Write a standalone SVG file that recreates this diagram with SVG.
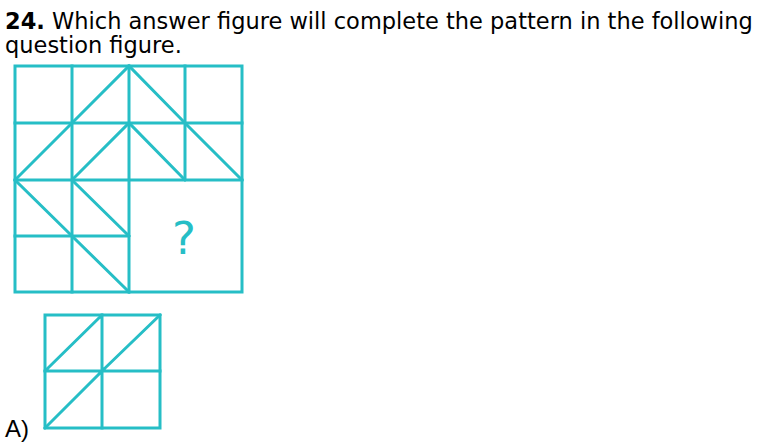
<svg xmlns="http://www.w3.org/2000/svg" width="759" height="444" viewBox="0 0 759 444">
<style>
.t{font-family:"DejaVu Sans",sans-serif;font-size:22.5px;fill:#000}
.a{font-family:"Liberation Sans",Arial,sans-serif;font-size:24px;fill:#000}
.g{stroke:#26bec6;stroke-width:3;fill:none;stroke-linecap:square}
.q{font-family:"DejaVu Sans",sans-serif;font-size:45px;fill:#26bec6}
</style>
<rect width="759" height="444" fill="#fff"/>
<g id="title">
<text class="t" x="5" y="29"><tspan font-weight="bold">24.</tspan> Which answer figure will complete the pattern in the following</text>
<text class="t" x="5" y="53">question figure.</text>
</g>
<g id="question-figure" class="g">
<rect x="15" y="66" width="227" height="226"/>
<path d="M72 66V292M129 66V292M185 66V180M15 123H242M15 180H242M15 236H129"/>
<path d="M72 123L129 66L185 123M15 180L72 123M72 180L129 123L185 180M185 123L242 180M15 180L72 236M72 180L129 236M72 236L129 292"/>
</g>
<g id="question-mark"><text class="q" x="184" y="254" text-anchor="middle">?</text></g>
<g id="answer-a">
<text class="a" x="5" y="437">A)</text>
<g class="g">
<rect x="45" y="315" width="115" height="113"/>
<path d="M102 315V428M45 371H160M45 371L102 315M102 371L160 315M45 428L102 371"/>
</g>
</g>
</svg>
